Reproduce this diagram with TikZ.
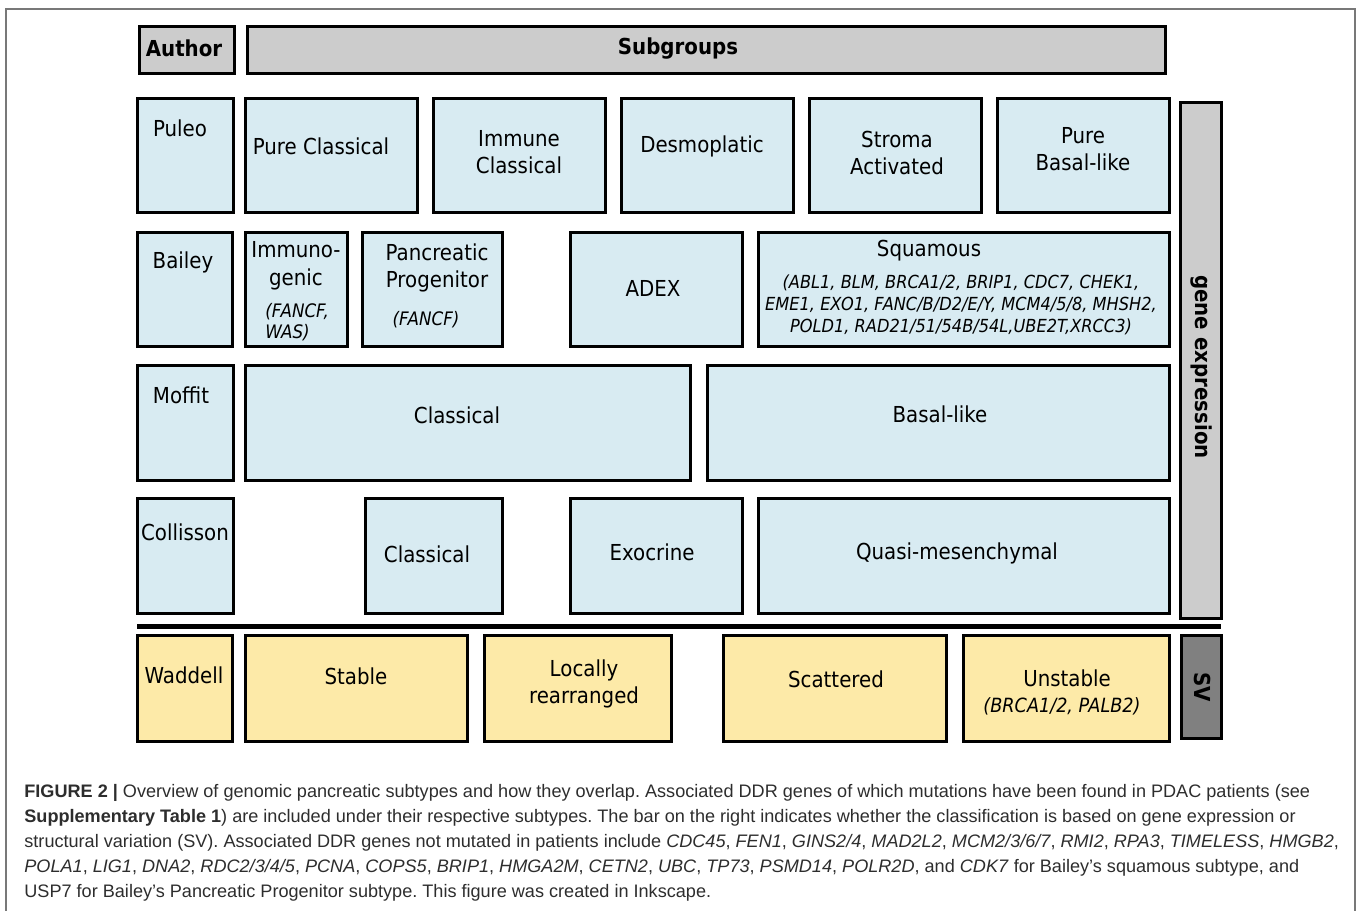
\documentclass[tikz,border=0pt]{standalone}
\usepackage{fontspec}
\setmainfont{DejaVu Sans}[FakeStretch=0.9]
\newfontfamily\capfont{Liberation Sans}
\definecolor{boxblue}{RGB}{216,235,242}
\definecolor{boxyellow}{RGB}{253,234,168}
\definecolor{boxgray}{RGB}{204,204,204}
\definecolor{svgray}{RGB}{128,128,128}
\definecolor{frame}{RGB}{120,120,120}
\definecolor{captext}{RGB}{45,45,45}
\newcommand\bx[7]{\node[#6, minimum width={(#4-#2)*0.5pt}, minimum height={(#5-#3)*0.5pt}, anchor=north west] (#1) at (#2,#3) {#7};}
\tikzset{
  box/.style={draw=black, line width=1.5pt, inner sep=0pt, outer sep=0pt},
  bluebox/.style={box, fill=boxblue},
  yelbox/.style={box, fill=boxyellow},
  graybox/.style={box, fill=boxgray},
  svbox/.style={box, fill=svgray},
  lbl/.style={font=\fontsize{11}{13.5}\selectfont, align=center, inner sep=0pt},
  hdr/.style={font=\fontsize{11}{13.5}\bfseries\selectfont, align=center, inner sep=0pt},
  gene/.style={font=\fontsize{9.3}{11}\selectfont\itshape, align=center, inner sep=0pt},
  capline/.style={font=\capfont\fontsize{9.05}{12.5}\selectfont\frenchspacing, text=captext, anchor=base west, inner sep=0pt},
}
\begin{document}
\begin{tikzpicture}[x=0.5pt,y=-0.5pt]
\useasboundingbox (0,0) rectangle (1358,910);
% outer frame
\draw[frame, line width=0.6pt] (6,915) -- (6,9) -- (1355,9) -- (1355,915);

% header
\bx{author}{139}{26}{234}{73}{graybox}{}
\bx{subgroups}{247}{26}{1165}{73}{graybox}{}
\node[hdr] (tauthor) at (184,48) {Author};
\node[hdr, anchor=base] (tsub) at (678,54) {Subgroups};

% right bars
\bx{gebar}{1180}{102}{1221}{618}{graybox}{}
\node[hdr, rotate=-90] (tge) at (1201,367) {gene expression};
\bx{svbar}{1181}{635}{1221}{738}{svbox}{}
\node[hdr, rotate=-90] (tsv) at (1202,687) {SV};

% Puleo row
\bx{puleo}{137}{98}{233}{212}{bluebox}{}
\node[lbl] (tpuleo) at (180,128) {Puleo};
\bx{pc}{245}{98}{417}{212}{bluebox}{}
\node[lbl] (tpc) at (321,146) {Pure Classical};
\bx{ic}{433}{98}{605}{212}{bluebox}{}
\node[lbl] (tic) at (519,152.5) {Immune\\Classical};
\bx{desmo}{621}{98}{793}{212}{bluebox}{}
\node[lbl] (tdesmo) at (702,146) {Desmoplatic};
\bx{stroma}{809}{98}{981}{212}{bluebox}{}
\node[lbl] (tstroma) at (897,152.5) {Stroma\\Activated};
\bx{pbl}{997}{98}{1169}{212}{bluebox}{}
\node[lbl] (tpbl) at (1083,149.5) {Pure\\Basal-like};

% Bailey row
\bx{bailey}{137}{232}{232}{346}{bluebox}{}
\node[lbl] (tbailey) at (183,262) {Bailey};
\bx{immuno}{245}{232}{347}{346}{bluebox}{}
\node[lbl, font=\fontsize{11}{14}\selectfont] (timmuno) at (296,266) {Immuno-\\genic};
\node[gene, align=left, anchor=west, font=\fontsize{9.3}{10.5}\selectfont\itshape] (gimmuno) at (265,322.5) {(FANCF,\\WAS)};
\bx{panc}{362}{232}{502}{346}{bluebox}{}
\node[lbl] (tpanc) at (437,267.5) {Pancreatic\\Progenitor};
\node[gene] (gpanc) at (426,320) {(FANCF)};
\bx{adex}{570}{232}{742}{346}{bluebox}{}
\node[lbl] (tadex) at (653,288) {ADEX};
\bx{squam}{758}{232}{1169}{346}{bluebox}{}
\node[lbl] (tsquam) at (929,251) {Squamous};
\node[gene, font=\fontsize{9}{11}\selectfont\itshape] (gsquam) at (961,305) {(ABL1, BLM, BRCA1/2, BRIP1, CDC7, CHEK1,\\EME1, EXO1, FANC/B/D2/E/Y, MCM4/5/8, MHSH2,\\POLD1, RAD21/51/54B/54L,UBE2T,XRCC3)};

% Moffit row
\bx{moffit}{137}{365}{233}{480}{bluebox}{}
\node[lbl] (tmoffit) at (181,395) {Moffit};
\bx{mclass}{245}{365}{690}{480}{bluebox}{}
\node[lbl] (tmclass) at (457,415) {Classical};
\bx{mbasal}{707}{365}{1169}{480}{bluebox}{}
\node[lbl] (tmbasal) at (940,414) {Basal-like};

% Collisson row
\bx{coll}{137}{498}{233}{613}{bluebox}{}
\node[lbl] (tcoll) at (185,532) {Collisson};
\bx{cclass}{365}{498}{502}{613}{bluebox}{}
\node[lbl] (tcclass) at (427,554) {Classical};
\bx{exo}{570}{498}{742}{613}{bluebox}{}
\node[lbl] (texo) at (652,552) {Exocrine};
\bx{qm}{758}{498}{1169}{613}{bluebox}{}
\node[lbl] (tqm) at (957,553) {Quasi-mesenchymal};

% separator
\coordinate (sepL) at (137,626);
\coordinate (sepR) at (1221,626);
\draw[line width=2.5pt] (sepL) -- (sepR);

% Waddell row
\bx{waddell}{137}{635}{232}{741}{yelbox}{}
\node[lbl] (twaddell) at (184,675) {Waddell};
\bx{stable}{245}{635}{467}{741}{yelbox}{}
\node[lbl] (tstable) at (356,676) {Stable};
\bx{local}{484}{635}{671}{741}{yelbox}{}
\node[lbl] (tlocal) at (584,683.5) {Locally\\rearranged};
\bx{scat}{723}{635}{946}{741}{yelbox}{}
\node[lbl] (tscat) at (836,679) {Scattered};
\bx{unst}{963}{635}{1169}{741}{yelbox}{}
\node[lbl] (tunst) at (1067,678) {Unstable};
\node[gene, font=\fontsize{9.8}{11}\selectfont\itshape] (gunst) at (1062,706) {(BRCA1/2, PALB2)};

% caption
\node[capline] (cap1) at (24,797) {\textbf{FIGURE 2 |} Overview of genomic pancreatic subtypes and how they overlap. Associated DDR genes of which mutations have been found in PDAC patients (see};
\node[capline] (cap2) at (24,822) {\textbf{Supplementary Table 1}) are included under their respective subtypes. The bar on the right indicates whether the classification is based on gene expression or};
\node[capline] (cap3) at (24,847) {structural variation (SV). Associated DDR genes not mutated in patients include \textit{CDC45}, \textit{FEN1}, \textit{GINS2/4}, \textit{MAD2L2}, \textit{MCM2/3/6/7}, \textit{RMI2}, \textit{RPA3}, \textit{TIMELESS}, \textit{HMGB2},};
\node[capline] (cap4) at (24,872) {\textit{POLA1}, \textit{LIG1}, \textit{DNA2}, \textit{RDC2/3/4/5}, \textit{PCNA}, \textit{COPS5}, \textit{BRIP1}, \textit{HMGA2M}, \textit{CETN2}, \textit{UBC}, \textit{TP73}, \textit{PSMD14}, \textit{POLR2D}, and \textit{CDK7} for Bailey’s squamous subtype, and};
\node[capline] (cap5) at (24,897) {USP7 for Bailey’s Pancreatic Progenitor subtype. This figure was created in Inkscape.};
\end{tikzpicture}
\end{document}
